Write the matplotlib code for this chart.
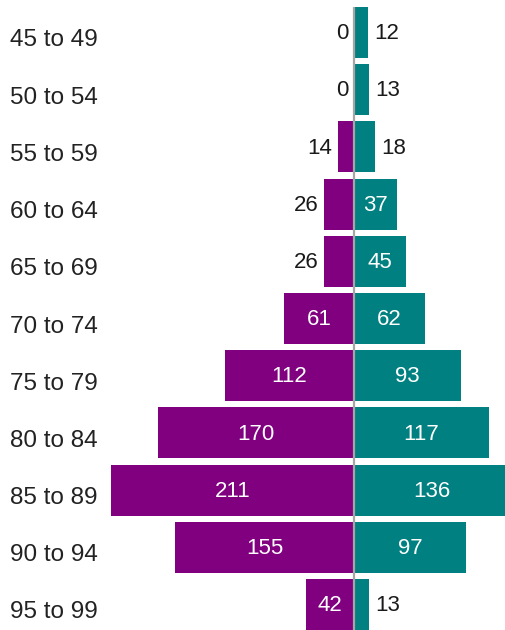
import matplotlib
matplotlib.use("Agg")
import matplotlib.pyplot as plt

plt.rcParams['font.family'] = ['Liberation Sans', 'DejaVu Sans']

categories = ["45 to 49", "50 to 54", "55 to 59", "60 to 64", "65 to 69", "70 to 74",
              "75 to 79", "80 to 84", "85 to 89", "90 to 94", "95 to 99"]
left_values = [0, 0, 14, 26, 26, 61, 112, 170, 211, 155, 42]
right_values = [12, 13, 18, 37, 45, 62, 93, 117, 136, 97, 13]

purple = "#800080"
teal = "#008080"

W, H = 506, 630
fig = plt.figure(figsize=(W / 100, H / 100), dpi=100)
ax = fig.add_axes([100 / W, 0, 406 / W, 1])

n = len(categories)
y = list(range(n))
bh = 0.89

ax.barh(y, [-v for v in left_values], height=bh, color=purple, linewidth=0)
ax.barh(y, right_values, height=bh, color=teal, linewidth=0)

ax.set_xlim(-220.5, 132)
ax.set_ylim(10.446, -0.568)
ax.vlines(0, -0.445, 10.446, color="#a6a6a6", linewidth=1.6, zorder=3)

fs = 16
thresh = 35
for i in y:
    lv = left_values[i]
    if lv >= thresh:
        ax.text(-lv / 2, i + 0.02, str(lv), ha="center", va="center", color="white", fontsize=fs, zorder=4)
    else:
        ax.text(-lv - 5, i + 0.02, str(lv), ha="right", va="center", color="#1a1a1a", fontsize=fs, zorder=4)
    rv = right_values[i]
    if rv >= thresh:
        ax.text(rv / 2, i + 0.02, str(rv), ha="center", va="center", color="white", fontsize=fs, zorder=4)
    else:
        ax.text(rv + 5.5, i + 0.02, str(rv), ha="left", va="center", color="#1a1a1a", fontsize=fs, zorder=4)

for i, c in enumerate(categories):
    fig.text(10 / W, 1 - (32.5 + 57.2 * i + 8) / H, c, ha="left", va="center",
             color="#222222", fontsize=17.5)

ax.axis("off")
fig.savefig("out.png", dpi=100)
